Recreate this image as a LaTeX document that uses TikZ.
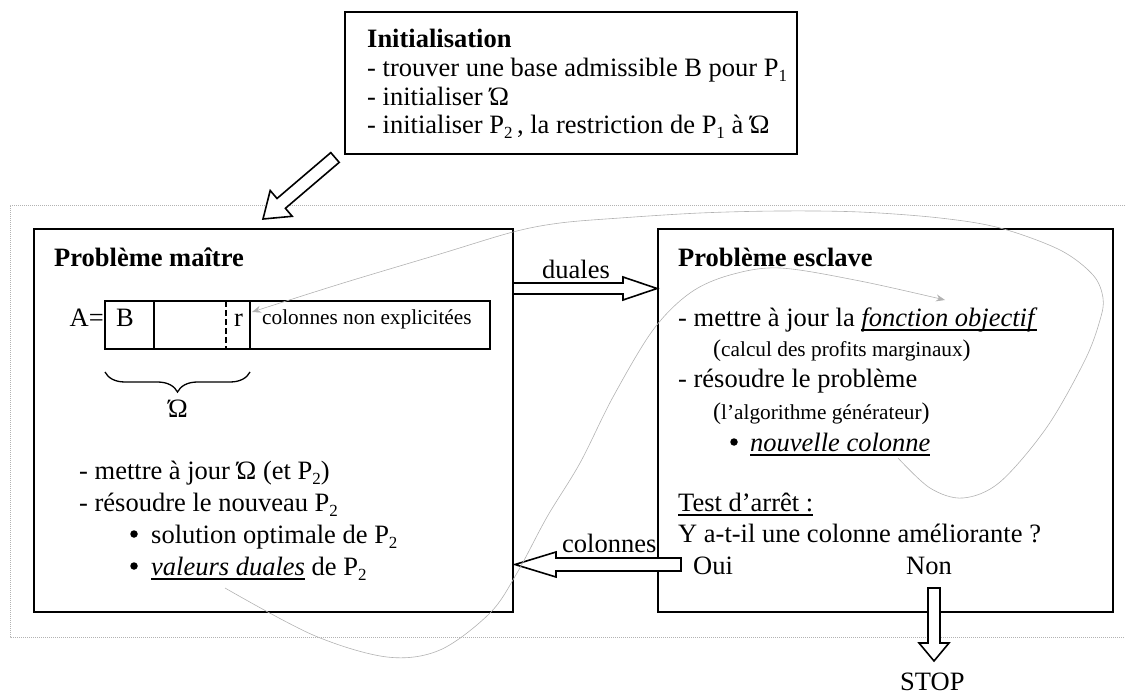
\documentclass[tikz,border=0pt]{standalone}
\usepackage{fontspec}
\setmainfont{Liberation Serif}
\usetikzlibrary{arrows.meta,decorations.pathreplacing}
\newcommand\subs[1]{\raisebox{-5pt}{\fontsize{17}{18}\selectfont #1}}
\newcommand\ulin[1]{\sbox0{#1}\rlap{\rule[-4.5pt]{\wd0}{1.4pt}}\usebox0}
\newcommand\smalltxt[1]{{\fontsize{21.3}{24}\selectfont #1}}
\newcommand\pl{{\fontsize{24}{24}\selectfont (}}
\newcommand\pr{{\fontsize{24}{24}\selectfont )}}
\begin{document}
\begin{tikzpicture}[x=1pt,y=-1pt,
  txt/.style={inner sep=0pt, anchor=base west, font=\fontsize{26.5}{30}\selectfont},
  boldtxt/.style={txt, font=\fontsize{26.5}{30}\selectfont\bfseries},
  box/.style={draw, line width=1.6pt, inner sep=0pt},
  dot/.style={circle, fill, inner sep=0pt, minimum size=7.5pt},
  blockarrow/.style={draw, line width=1.6pt, fill=white, line join=miter},
  loopline/.style={draw=black!30, line width=0.6pt},
  frame/.style={draw=black!30, line width=0.8pt, dash pattern=on 1pt off 1pt}]
\useasboundingbox (0,0) rectangle (1125,695);

% dotted frame
\draw[frame] (1125,205) -- (10,205) -- (10,637) -- (1125,637);

% boxes
\node[box, minimum width=452pt, minimum height=142pt] (init) at (571,83) {};
\node[box, minimum width=479pt, minimum height=383pt] (master) at (273.5,420.5) {};
\node[box, minimum width=455pt, minimum height=383pt] (slave) at (885.5,420.5) {};
\node[box, minimum width=385pt, minimum height=48pt] (matrix) at (297.5,325) {};
\draw[line width=1.6pt] (154,301) -- (154,349);
\draw[line width=1.6pt, dash pattern=on 6pt off 3pt] (226,301) -- (226,349);
\draw[line width=1.6pt] (250,301) -- (250,349);

% init text
\node[boldtxt] (t0) at (367,48) {Initialisation};
\node[txt] (t1) at (367,77) {- trouver une base admissible B pour P\subs{1}};
\node[txt] (t2) at (367,106) {- initialiser Ώ};
\node[txt] (t3) at (367,134) {- initialiser P\subs{2}\,, la restriction de P\subs{1} à Ώ};

% master text
\node[boldtxt] (m0) at (54,266) {Problème maître};
\node[txt, anchor=base east] (ma) at (104,326) {A=};
\node[txt] (mb) at (116,326) {B};
\node[txt] (mr) at (234,326) {r};
\node[txt] (mc) at (262,324) {\smalltxt{colonnes non explicitées}};
\draw[line width=1.3pt, decorate, decoration={brace, amplitude=20pt}] (250,372) -- (105,372);
\node[txt, anchor=base] (mo) at (178,417) {Ώ};
\node[txt] (m1) at (79,479) {- mettre à jour Ώ (et P\subs{2})};
\node[txt] (m2) at (79,511) {- résoudre le nouveau P\subs{2}};
\node[dot] (mb1) at (134,534) {};
\node[txt] (m3) at (151,543) {solution optimale de P\subs{2}};
\node[dot] (mb2) at (134,566) {};
\node[txt] (m4) at (151,575) {\ulin{\textit{valeurs duales}} de P\subs{2}};

% slave text
\node[boldtxt] (s0) at (678,266) {Problème esclave};
\node[txt] (s1) at (678,326) {- mettre à jour la \ulin{\textit{fonction objectif}}};
\node[txt] (s2) at (713,356) {\pl\smalltxt{calcul des profits marginaux}\pr};
\node[txt] (s3) at (678,387) {- résoudre le problème};
\node[txt] (s4) at (713,419) {\pl\smalltxt{l’algorithme générateur}\pr};
\node[dot] (sb) at (734,442) {};
\node[txt] (s5) at (750,451) {\ulin{\textit{nouvelle colonne}}};
\node[txt] (s6) at (678,511) {\ulin{Test d’arrêt :}};
\node[txt] (s7) at (678,542) {Y a-t-il une colonne améliorante ?};
\node[txt] (oui) at (693,574) {Oui};
\node[txt] (non) at (906,574) {Non};

% block arrows
\draw[blockarrow] (330.8,152.6) -- (277,198.5) -- (270.2,190.5) -- (263,219) -- (292.2,216.3) -- (285.4,208.3) -- (339.2,162.4) -- cycle;
\draw[blockarrow] (513,283) -- (623,283) -- (623,277) -- (657,288.5) -- (623,300) -- (623,294) -- (513,294) -- cycle;
\node[txt] (duales) at (542,279) {duales};
\draw[blockarrow] (681,558) -- (556,558) -- (556,552) -- (515,564.5) -- (556,577) -- (556,571) -- (681,571) -- cycle;
\node[txt] (col) at (562,552) {colonnes};
\draw[blockarrow] (928,588) -- (928,643) -- (919,643) -- (934,661) -- (949,643) -- (940,643) -- (940,588) -- cycle;
\node[txt] (stop) at (900,690) {STOP};

% grey loop curves
\draw[loopline, -{Stealth[length=9pt,width=7pt,inset=3pt]}] plot[smooth, tension=0.55] coordinates {(225,588) (313,635) (387,657) (440,650) (490,613) (517,573) (547,517) (580,463) (613,397) (653,330) (690,293) (730,275) (780,268) (860,281) (945,300)};
\draw[loopline, -{Stealth[length=9pt,width=7pt,inset=3pt]}] plot[smooth, tension=0.55] coordinates {(898,458) (930,488) (963,498) (1000,482) (1047,427) (1085,360) (1100,320) (1103,298) (1093,275) (1060,250) (1000,228) (940,218) (860,212) (780,211) (700,213) (620,218) (560,223) (513,232) (440,254) (340,284) (252,312)};
\end{tikzpicture}
\end{document}
